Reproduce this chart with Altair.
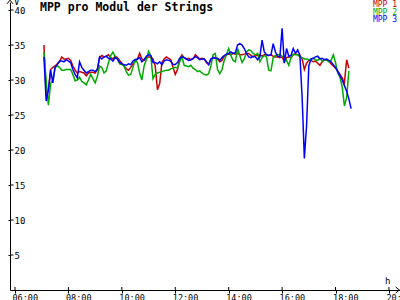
import altair as alt
import pandas as pd
import numpy as np

# ---- data (5-minute samples starting 07:05) ----
start_hour = 7 + 5 / 60
step_minutes = 5

mpp1 = [
    35.0, 28.0, 28.5, 31.5, 31.8, 32.0, 32.3, 32.6, 33.3, 33.0, 33.0, 33.1,
    32.8, 32.0, 31.4, 31.0, 31.2, 31.1, 31.0, 30.6, 31.0, 31.1, 31.1, 31.0,
    31.5, 33.2, 33.5, 33.3, 33.4, 33.6, 33.2, 33.0, 33.4, 33.2, 32.8, 32.4,
    32.0, 31.6, 31.4, 31.8, 32.3, 32.6, 33.0, 33.8, 33.0, 32.8, 33.1, 33.3,
    33.3, 33.0, 32.0, 28.6, 29.5, 32.5, 33.0, 33.3, 33.1, 32.9, 31.8, 30.8,
    31.5, 33.0, 33.6, 33.2, 33.0, 33.1, 32.9, 33.0, 33.6, 33.3, 33.0, 33.1,
    33.0, 32.5, 32.2, 33.0, 33.1, 33.2, 33.0, 32.6, 32.8, 33.4, 33.6, 33.7,
    33.6, 33.8, 33.7, 33.8, 33.6, 33.6, 33.7, 33.8, 33.8, 33.5, 33.3, 33.5,
    33.5, 33.6, 33.4, 33.6, 33.6, 33.5, 33.6, 33.4, 33.3, 33.3, 33.2, 33.3,
    32.6, 33.2, 33.3, 33.2, 33.6, 33.7, 33.6, 33.5, 33.0, 31.5, 32.4, 32.8,
    32.8, 32.6, 32.7, 32.4, 32.1, 32.6, 32.9, 32.8, 32.7, 32.3, 32.0, 31.7,
    31.3, 30.8, 30.3, 29.6, 32.9, 31.7, None,
]
mpp2 = [
    34.0, 30.0, 26.4, 29.5, 30.0, 31.8, 32.0, 31.8, 31.4, 31.4, 31.5, 31.5,
    31.5, 30.8, 29.9, 30.0, 30.4, 29.8, 29.6, 29.3, 30.0, 30.8, 30.2, 29.6,
    30.5, 32.0, 31.8, 31.0, 31.3, 32.5, 33.5, 34.0, 33.3, 33.0, 32.3, 32.2,
    32.0, 31.2, 30.7, 30.8, 31.8, 32.9, 32.5, 31.0, 30.0, 32.0, 32.9, 34.1,
    33.5, 30.2, 30.8, 31.0, 31.1, 31.2, 31.3, 31.4, 31.4, 31.6, 31.7, 31.8,
    31.7, 32.6, 33.3, 32.1, 32.0, 31.9, 32.1, 31.7, 31.5, 31.2, 31.3, 31.0,
    30.8, 30.7, 30.9, 32.0, 33.6, 33.8, 31.5, 30.9, 31.5, 32.8, 33.6, 34.5,
    33.5, 32.8, 32.6, 34.5, 33.5, 32.5, 33.0, 34.0, 34.3, 34.2, 33.8, 33.6,
    33.8, 32.6, 33.2, 33.5, 33.3, 31.4, 31.3, 33.2, 33.5, 33.6, 33.6, 33.4,
    33.3, 32.8, 32.1, 33.2, 33.7, 33.6, 33.6, 33.3, 33.2, 33.0, 33.0, 32.9,
    33.0, 33.1, 32.9, 32.8, 33.1, 32.7, 32.8, 32.9, 32.6, 32.8, 33.6, 32.5,
    31.0, 30.4, 29.0, 26.3, 27.5, 31.3, None,
]
mpp3 = [
    33.3, 27.0, 28.5, 31.4, 29.6, 31.8, 32.2, 32.7, 32.7, 32.6, 32.9, 32.7,
    32.5, 31.5, 30.8, 30.3, 32.6, 31.8, 31.4, 31.0, 31.2, 31.4, 31.4, 31.2,
    31.5, 33.3, 33.0, 33.3, 33.4, 33.1, 33.0, 32.7, 33.2, 33.0, 32.5, 32.3,
    32.2, 32.1, 32.3, 32.2, 32.7, 32.9, 33.0, 33.2, 32.6, 32.9, 33.4, 33.6,
    33.5, 32.5, 32.5, 32.3, 32.6, 32.2, 32.7, 32.9, 32.8, 32.7, 32.2, 32.2,
    32.5, 33.1, 33.3, 33.2, 33.0, 32.8, 32.9, 33.1, 33.3, 33.2, 32.9, 33.0,
    33.0, 32.6, 32.2, 33.0, 33.2, 33.1, 33.1, 32.8, 33.2, 33.5, 33.7, 33.8,
    34.0, 33.8, 33.9, 35.0, 35.2, 35.0, 34.5, 33.8, 33.3, 33.2, 33.4, 33.3,
    32.9, 33.3, 35.7, 34.0, 33.6, 33.5, 33.6, 35.2, 34.0, 33.4, 33.3, 37.4,
    32.4, 34.5, 33.4, 33.5, 34.5, 33.8, 34.3, 33.5, 27.5, 18.8, 23.5, 32.0,
    33.0, 33.1, 33.3, 33.4, 33.0, 33.1, 32.9, 33.0, 32.8, 32.6, 32.2, 31.8,
    31.2, 30.6, 30.0, 29.2, 28.4, 27.3, 25.9,
]

series_names = ["MPP 1", "MPP 2", "MPP 3"]
series_colors = ["#c80000", "#00aa00", "#0000ff"]
y_ticks = [5, 10, 15, 20, 25, 30, 35, 40]
x_ticks = [6, 8, 10, 12, 14, 16, 18, 20]
title_text = "MPP pro Modul der Strings"
y_unit = "V"
x_unit = "h"

# ---- layout ----
W, H = 390, 288
x_domain = [5.8128, 20.414]
y_domain = [0, 40 * H / 280]
mono = "DejaVu Sans Mono"

rows = []
for name, vals in zip(series_names, [mpp1, mpp2, mpp3]):
    for i, v in enumerate(vals):
        if v is None:
            continue
        rows.append({"series": name, "hour": start_hour + i * step_minutes / 60, "value": v})
df = pd.DataFrame(rows)

xscale = alt.Scale(domain=x_domain, nice=False, zero=False)
yscale = alt.Scale(domain=y_domain, nice=False, zero=False)

lines = alt.Chart(df).mark_line(strokeWidth=1.5, strokeJoin="miter", clip=True).encode(
    x=alt.X("hour:Q", scale=xscale, axis=alt.Axis(
        values=x_ticks, title=None, grid=False,
        labelExpr="(datum.value < 10 ? '0' : '') + datum.value + ':00'",
        tickSize=3, tickColor="black", domainColor="black",
        labelAlign="left", labelBaseline="top", labelPadding=0, labelOffset=-3,
        labelFlush=False, labelOverlap=False, labelBound=False,
        labelFont=mono, labelFontSize=8.5, labelColor="black")),
    y=alt.Y("value:Q", scale=yscale, axis=alt.Axis(
        values=y_ticks, title=None, grid=False,
        tickSize=2, tickColor="black", domainColor="black",
        labelAlign="left", labelBaseline="middle", labelPadding=-6,
        labelFlush=False, labelOverlap=False,
        labelFont=mono, labelFontSize=9, labelColor="black")),
    color=alt.Color("series:N", scale=alt.Scale(domain=series_names, range=series_colors), legend=None),
)

ytick_df = pd.DataFrame({"value": y_ticks})
ytick_inner = alt.Chart(ytick_df).mark_rule(color="black", strokeWidth=1).encode(
    y=alt.Y("value:Q", scale=yscale), x=alt.value(0), x2=alt.value(3.5))

xtick_df = pd.DataFrame({"hour": x_ticks})
xtick_inner = alt.Chart(xtick_df).mark_rule(color="black", strokeWidth=1).encode(
    x=alt.X("hour:Q", scale=xscale), y=alt.value(H - 3), y2=alt.value(H))

one = pd.DataFrame({"a": [0]})
arrow_up = alt.Chart(one).mark_point(shape="M-1,0.6L0,-0.6L1,0.6", filled=False, color="black",
                                     strokeWidth=1, size=36, opacity=1).encode(
    x=alt.value(0), y=alt.value(0))
arrow_right = alt.Chart(one).mark_point(shape="M-0.6,-1L0.6,0L-0.6,1", filled=False, color="black",
                                        strokeWidth=1, size=36, opacity=1).encode(
    x=alt.value(W - 2.5), y=alt.value(H))

title = alt.Chart(pd.DataFrame({"t": [title_text]})).mark_text(
    font=mono, fontSize=11.5, fontWeight="bold", align="left", baseline="alphabetic", color="black").encode(
    text="t:N", x=alt.value(30), y=alt.value(9))

vlab = alt.Chart(pd.DataFrame({"t": [y_unit]})).mark_text(
    font=mono, fontSize=9, align="left", baseline="alphabetic", color="black").encode(
    text="t:N", x=alt.value(4), y=alt.value(2.5))
hlab = alt.Chart(pd.DataFrame({"t": [x_unit]})).mark_text(
    font=mono, fontSize=9, align="left", baseline="alphabetic", color="black").encode(
    text="t:N", x=alt.value(375), y=alt.value(281.5))

legend_layers = []
for k, (name, col) in enumerate(zip(series_names, series_colors)):
    legend_layers.append(
        alt.Chart(pd.DataFrame({"t": [name]})).mark_text(
            font=mono, fontSize=8, align="right", baseline="alphabetic", color=col).encode(
            text="t:N", x=alt.value(387), y=alt.value(5 + 7.5 * k)))

chart = alt.layer(lines, ytick_inner, xtick_inner, arrow_up, arrow_right, title, vlab, hlab,
                  *legend_layers).properties(
    width=W, height=H,
    autosize=alt.AutoSizeParams(type="none"),
    padding={"left": 10, "top": 2, "right": 0, "bottom": 10},
    background="white",
).configure_view(stroke=None)

chart.save("out.html", embed_options={"renderer": "svg", "actions": False})
